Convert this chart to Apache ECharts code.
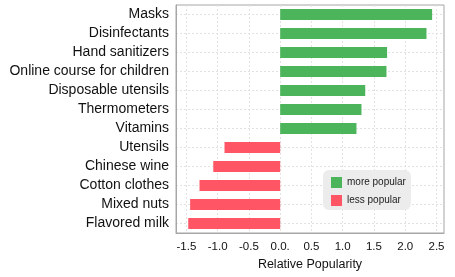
<!DOCTYPE html>
<html>
<head>
<meta charset="utf-8">
<script src="https://cdn.jsdelivr.net/npm/echarts@6/dist/echarts.min.js"></script>
<style>html,body{margin:0;padding:0;background:#fff}#c{width:455px;height:277px}</style>
</head>
<body>
<div id="c"></div>
<script>
const categories = ["Masks","Disinfectants","Hand sanitizers","Online course for children","Disposable utensils","Thermometers","Vitamins","Utensils","Chinese wine","Cotton clothes","Mixed nuts","Flavored milk"];
const moreValues = [2.43, 2.34, 1.71, 1.70, 1.36, 1.30, 1.22, null, null, null, null, null];
const lessValues = [null, null, null, null, null, null, null, -0.89, -1.07, -1.29, -1.44, -1.47];
const xTicks = [-1.5, -1.0, -0.5, 0.0, 0.5, 1.0, 1.5, 2.0, 2.5];

const chart = echarts.init(document.getElementById('c'));
const FONT = 'Liberation Sans';
chart.setOption({
  animation: false,
  textStyle: {fontFamily: FONT},
  grid: {left: 176, right: 11, top: 5, bottom: 44, show: true, borderColor: '#a6a6a6', borderWidth: 1, containLabel: false},
  legend: {
    orient: 'vertical', left: 323, top: 170, icon: 'rect', itemWidth: 11, itemHeight: 11, itemGap: 7,
    backgroundColor: '#ececec', borderRadius: 6, padding: [7, 5, 4, 8],
    textStyle: {fontFamily: FONT, fontSize: 10, color: '#222'},
    data: ['more popular', 'less popular']
  },
  xAxis: {
    type: 'value', min: -1.666, max: 2.62,
    name: 'Relative Popularity', nameLocation: 'middle', nameGap: 25,
    nameTextStyle: {fontFamily: FONT, fontSize: 12.5, color: '#111'},
    axisLine: {show: true, lineStyle: {color: '#a6a6a6'}},
    axisTick: {show: false, customValues: xTicks},
    axisLabel: {customValues: xTicks, fontFamily: FONT, fontSize: 11.5, color: '#111', margin: 8,
      formatter: v => (Math.abs(v) < 1e-9 ? '0.0.' : v.toFixed(1))},
    splitLine: {show: true, lineStyle: {color: '#e2e2e2', type: [2, 2]}}
  },
  yAxis: {
    type: 'category', data: categories, inverse: true,
    axisLine: {show: true, onZero: false, lineStyle: {color: '#a6a6a6'}},
    axisTick: {show: false, alignWithLabel: true},
    axisLabel: {fontFamily: FONT, fontSize: 14, color: '#111', margin: 7},
    splitLine: {show: true, alignWithLabel: true, lineStyle: {color: '#e2e2e2', type: [2, 2]}}
  },
  series: [
    {name: 'more popular', type: 'bar', stack: 's', data: moreValues, barWidth: 11,
      itemStyle: {color: '#4cb45b'}},
    {name: 'less popular', type: 'bar', stack: 's', data: lessValues, barWidth: 11,
      itemStyle: {color: '#ff5564'}}
  ]
});
</script>
</body>
</html>
